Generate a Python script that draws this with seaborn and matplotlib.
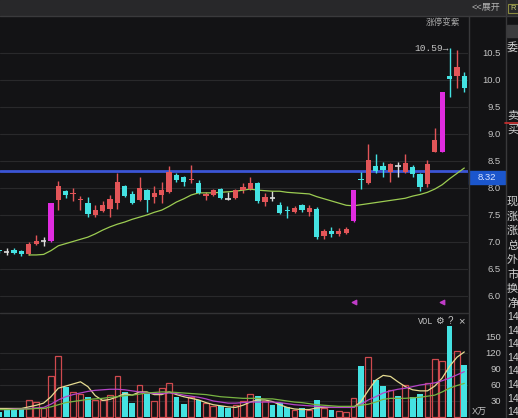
import numpy as np
import pandas as pd
import matplotlib
matplotlib.use("Agg")
import matplotlib.pyplot as plt
import matplotlib.transforms as mtransforms
from matplotlib.patches import Rectangle
from matplotlib.ticker import FormatStrFormatter
import seaborn as sns

# daily candles, oldest first (price in yuan)
opens = [6.84, 6.82, 6.85, 6.83, 6.77, 6.97, 7.02, 7.02, 7.78, 7.94,
         7.89, 7.78, 7.72, 7.50, 7.58, 7.62, 7.73, 8.03, 7.89, 7.78,
         7.96, 7.83, 7.87, 7.92, 8.24, 8.20, 8.14, 8.10, 7.85, 7.87,
         7.98, 7.80, 7.82, 7.97, 7.99, 8.09, 7.74, 7.81, 7.69, 7.60,
         7.56, 7.68, 7.55, 7.62, 7.11, 7.21, 7.15, 7.17, 7.38, 8.17,
         8.09, 8.41, 8.40, 8.30, 8.40, 8.30, 8.38, 8.26, 8.07, 8.67,
         8.66, 10.07, 10.08, 10.08]
highs = [6.85, 6.89, 6.88, 6.85, 7.00, 7.13, 7.10, 7.72, 8.13, 7.96,
         8.00, 7.85, 7.84, 7.69, 7.75, 7.87, 8.28, 8.05, 7.94, 8.21,
         7.98, 8.03, 8.12, 8.40, 8.28, 8.23, 8.43, 8.15, 7.93, 7.98,
         8.00, 7.92, 7.99, 8.09, 8.20, 8.12, 7.91, 7.94, 7.74, 7.66,
         7.66, 7.71, 7.69, 7.64, 7.24, 7.28, 7.26, 7.27, 7.96, 8.30,
         8.82, 8.63, 8.49, 8.46, 8.49, 8.63, 8.43, 8.28, 8.52, 9.12,
         9.78, 10.59, 10.55, 10.14]
lows = [6.80, 6.76, 6.77, 6.74, 6.75, 6.94, 6.93, 7.00, 7.60, 7.81,
        7.75, 7.60, 7.46, 7.46, 7.55, 7.47, 7.62, 7.83, 7.70, 7.76,
        7.56, 7.72, 7.72, 7.90, 8.12, 8.03, 8.09, 7.88, 7.78, 7.85,
        7.79, 7.77, 7.80, 7.91, 7.96, 7.72, 7.66, 7.75, 7.51, 7.44,
        7.54, 7.56, 7.48, 7.06, 7.06, 7.10, 7.12, 7.15, 7.37, 7.99,
        8.08, 8.27, 8.20, 8.12, 8.20, 8.28, 8.20, 7.95, 8.02, 8.66,
        8.66, 9.69, 9.86, 9.78]
closes = [6.83, 6.82, 6.80, 6.77, 6.96, 7.01, 7.02, 7.72, 8.03, 7.87,
          7.91, 7.80, 7.52, 7.59, 7.69, 7.79, 8.12, 7.85, 7.73, 8.00,
          7.77, 7.90, 7.96, 8.30, 8.15, 8.11, 8.16, 7.90, 7.88, 7.96,
          7.81, 7.80, 7.96, 8.01, 8.10, 7.75, 7.84, 7.81, 7.54, 7.58,
          7.63, 7.59, 7.63, 7.10, 7.21, 7.15, 7.21, 7.24, 7.96, 8.14,
          8.51, 8.32, 8.34, 8.44, 8.40, 8.46, 8.26, 8.02, 8.44, 8.89,
          9.78, 10.02, 10.24, 9.86]
# volume in 万 (10k) shares
volumes = [10, 14, 15, 15, 31, 28, 16, 77, 114, 57,
           46, 43, 37, 31, 32, 41, 77, 46, 26, 60,
           44, 30, 55, 64, 37, 24, 38, 31, 26, 21,
           21, 16, 23, 30, 43, 40, 30, 23, 26, 18,
           13, 16, 13, 32, 16, 14, 12, 10, 35, 96,
           113, 69, 58, 51, 40, 60, 38, 44, 63, 108,
           105, 170, 124, 97]

# price moving average, shown from day 4 on
price_ma_start = 4
price_ma = [6.76, 6.76, 6.77, 6.84, 6.93, 6.97, 7.01, 7.05, 7.09, 7.15,
            7.22, 7.28, 7.33, 7.37, 7.42, 7.46, 7.50, 7.55, 7.59, 7.66,
            7.74, 7.80, 7.87, 7.91, 7.91, 7.91, 7.92, 7.93, 7.94, 7.96,
            7.98, 7.96, 7.95, 7.94, 7.94, 7.92, 7.91, 7.90, 7.89, 7.84,
            7.80, 7.76, 7.72, 7.68, 7.67, 7.69, 7.71, 7.73, 7.75, 7.77,
            7.79, 7.81, 7.85, 7.88, 7.92, 7.98, 8.06, 8.17, 8.27, 8.37]

# volume moving averages
vol_ma5 = [16, 16, 16, 16, 19, 22, 26, 38, 54, 58,
           62, 66, 57, 40, 31, 33, 38, 44, 41, 47,
           47, 42, 42, 47, 42, 38, 35, 32, 27, 23,
           21, 19, 18, 22, 28, 32, 32, 29, 23, 18,
           15, 14, 14, 17, 18, 18, 18, 18, 18, 29,
           50, 69, 78, 76, 66, 57, 51, 49, 49, 58,
           73, 95, 112, 122]
vol_ma10 = [14, 14, 15, 15, 16, 17, 18, 24, 32, 38,
            42, 45, 48, 50, 51, 52, 52, 51, 49, 47,
            45, 44, 44, 45, 44, 41, 39, 37, 34, 30,
            28, 26, 26, 27, 28, 28, 28, 28, 27, 25,
            23, 22, 21, 20, 19, 18, 18, 18, 18, 24,
            32, 38, 45, 49, 52, 54, 57, 60, 62, 64,
            68, 73, 79, 85]
vol_ma20 = [14, 14, 14, 15, 15, 16, 16, 19, 23, 27,
            29, 31, 33, 34, 35, 37, 38, 40, 41, 43,
            45, 46, 47, 47, 46, 45, 44, 43, 42, 40,
            38, 37, 36, 35, 35, 35, 34, 34, 32, 30,
            28, 27, 25, 23, 22, 21, 20, 20, 20, 22,
            24, 28, 33, 35, 35, 35, 36, 37, 39, 41,
            47, 54, 59, 63]

price_ticks = [6.0, 6.5, 7.0, 7.5, 8.0, 8.5, 9.0, 9.5, 10.0, 10.5]
vol_ticks = [30, 60, 90, 120, 150]
line_price = 8.32
limit_days = [48, 60]   # days marked under the price panel
side_labels = ["现", "涨", "涨", "总", "外", "市", "换", "净"]

BG = "#131315"
RED = "#e25558"
CYAN = "#44e2e2"
MAGENTA = "#e02ce0"
CROSS = "#dcdcdc"
TXT = "#c4c4c4"

sns.set_theme(style="dark", rc={"axes.facecolor": BG, "figure.facecolor": BG,
                                "axes.edgecolor": BG})
plt.rcParams["font.family"] = ["Liberation Sans", "Noto Sans CJK SC", "DejaVu Sans"]

W, H = 518, 418
fig = plt.figure(figsize=(W / 100, H / 100), dpi=100)


def P(x, y):
    return x / W, 1 - y / H


ax = fig.add_axes([0, 105 / H, 468 / W, 297 / H])
axv = fig.add_axes([0, 0, 468 / W, 105 / H])

df = pd.DataFrame(dict(o=opens, h=highs, l=lows, c=closes, v=volumes))
df["i"] = np.arange(len(df))
prev = df["c"].shift(1).fillna(df["o"])
df["up"] = (df["c"] > df["o"]) | ((df["c"] == df["o"]) & (df["c"] >= prev))
df["limit"] = df["c"] >= prev * 1.095
df["doji"] = df["c"] == df["o"]
df["color"] = np.where(df["limit"], MAGENTA,
                       np.where(df["doji"], CROSS, np.where(df["up"], RED, CYAN)))

# price panel
for t in price_ticks:
    ax.axhline(t, color="#29292b", lw=0.8, zorder=0)
ax.axhline(line_price, color="#3b55d6", lw=2, zorder=1)
ax.vlines(df["i"], df["l"], df["h"], colors=df["color"], lw=1, zorder=2)
body = df[~df["doji"]]
ax.bar(body["i"], np.maximum((body["c"] - body["o"]).abs(), 0.015),
       bottom=np.minimum(body["o"], body["c"]), width=0.72,
       color=body["color"], linewidth=0, zorder=3)
dj = df[df["doji"]]
ax.hlines(dj["c"], dj["i"] - 0.38, dj["i"] + 0.38, colors=CROSS, lw=1.2, zorder=3)

ma_df = pd.DataFrame({"i": np.arange(price_ma_start, price_ma_start + len(price_ma)),
                      "ma": price_ma})
sns.lineplot(data=ma_df, x="i", y="ma", ax=ax, color="#9ccc52", lw=0.9, zorder=2)

ax.scatter(limit_days, [5.88] * len(limit_days), marker="<", s=10,
           color="#c03cc8", zorder=3)
hi = int(df["h"].idxmax())
ax.text(hi - 0.15, df["h"].max(), f"{df['h'].max():.2f}→", ha="right", va="center",
        fontsize=6.8, color=TXT, family=["Liberation Mono", "DejaVu Sans Mono"])

ax.set_xlim(0.095, 63.5)
ax.set_ylim(5.685, 11.185)
ax.set_xticks([])
ax.set_xlabel("")
ax.set_ylabel("")
ax.yaxis.tick_right()
ax.set_yticks(price_ticks)
ax.yaxis.set_major_formatter(FormatStrFormatter("%.1f"))
ax.tick_params(axis="y", length=0, pad=23.8, labelsize=6.8, labelcolor=TXT)
plt.setp(ax.get_yticklabels(), ha="right")
for s in ax.spines.values():
    s.set_visible(False)

# last price tag
tr = mtransforms.blended_transform_factory(ax.transAxes, ax.transData)
ax.add_patch(Rectangle((1 + 1 / 468, line_price - 13 / 54), 36 / 468, 13 / 54,
                       transform=tr, color="#1b56cc", clip_on=False, zorder=5))
ax.text(1 + 19 / 468, line_price - 6.5 / 54, f"{line_price:.2f}", transform=tr,
        ha="center", va="center", fontsize=6.8, color="#d8e4ff", clip_on=False,
        zorder=6)

# volume panel
for t in vol_ticks[:-1]:
    axv.axhline(t, color="#29292b", lw=0.8, zorder=0)
up = df[df["up"]]
dn = df[~df["up"]]
axv.bar(up["i"], up["v"], width=0.78, facecolor="none", edgecolor="#cf4a4e",
        lw=0.9, zorder=2)
axv.bar(dn["i"], dn["v"], width=0.78, color=CYAN, linewidth=0, zorder=2)
vm = pd.DataFrame({"i": df["i"], "ma5": vol_ma5, "ma10": vol_ma10, "ma20": vol_ma20})
sns.lineplot(data=vm, x="i", y="ma5", ax=axv, color="#e6dc92", lw=0.9, zorder=3)
sns.lineplot(data=vm, x="i", y="ma10", ax=axv, color="#b544c8", lw=0.9, zorder=3)
sns.lineplot(data=vm, x="i", y="ma20", ax=axv, color="#78b442", lw=0.9, zorder=3)
axv.set_xlim(0.095, 63.5)
axv.set_ylim(-1.875, 195)
axv.set_xticks([])
axv.set_xlabel("")
axv.set_ylabel("")
axv.yaxis.tick_right()
axv.set_yticks(vol_ticks)
axv.tick_params(axis="y", length=0, pad=23.8, labelsize=6.8, labelcolor=TXT)
plt.setp(axv.get_yticklabels(), ha="right")
for s in axv.spines.values():
    s.set_visible(False)

# frame pieces of the trading screen
fig.patches.append(Rectangle(P(0, 15), 1, 15 / H, transform=fig.transFigure,
                             color="#28282a", zorder=0))
fig.add_artist(plt.Line2D([0, 1], [1 - 16 / H] * 2, color="#3a3a3c", lw=1))
fig.add_artist(plt.Line2D([0, 468 / W], [1 - 313 / H] * 2, color="#333335", lw=1))
fig.add_artist(plt.Line2D([468.5 / W] * 2, [0, 1 - 16 / H], color="#39393b", lw=1))
fig.add_artist(plt.Line2D([505.5 / W] * 2, [0, 1], color="#39393b", lw=1))
fig.add_artist(plt.Line2D([505 / W, 1], [1 - 123 / H] * 2, color="#d03030", lw=1.2))
fig.patches.append(Rectangle(P(507, 37), 12 / W, 12 / H, transform=fig.transFigure,
                             color="#3c3c3e", zorder=1))
fig.patches.append(Rectangle(P(508, 13), 11 / W, 9 / H, transform=fig.transFigure,
                             facecolor="none", edgecolor="#8c8c40", lw=0.8, zorder=1))
fig.text(*P(510, 8.5), "R", ha="left", va="center", fontsize=5.5, color="#c8c870")

fig.text(*P(486, 7.5), "<<展开", ha="center", va="center", fontsize=6.5, color="#b4b4b4")
fig.text(*P(443, 22), "涨停变紫", ha="center", va="center", fontsize=6.2, color="#a8a8a8")
fig.text(*P(418, 321), "VOL", ha="left", va="center", fontsize=6.2, color=TXT,
         family=["Liberation Mono", "DejaVu Sans Mono"])
fig.text(*P(439, 321), "⚙", ha="center", va="center", fontsize=7, color=TXT,
         family=["DejaVu Sans"])
fig.text(*P(450, 321), "?", ha="center", va="center", fontsize=7, color=TXT)
fig.text(*P(461, 321), "×", ha="center", va="center", fontsize=8, color=TXT)
fig.text(*P(472, 412), "X万", ha="left", va="center", fontsize=6.5, color=TXT)

fig.text(*P(507, 47), "委", ha="left", va="center", fontsize=8, color="#d0d0d0")
fig.text(*P(507, 115), "卖", ha="left", va="center", fontsize=8, color="#d0d0d0")
fig.text(*P(507, 130), "买", ha="left", va="center", fontsize=8, color="#d0d0d0")
for k, s in enumerate(side_labels):
    fig.text(*P(507, 202 + 14.5 * k), s, ha="left", va="center", fontsize=8,
             color="#d0d0d0")
for k in range(8):
    fig.text(*P(507, 317 + 13.6 * k), "14", ha="left", va="center", fontsize=7.5,
             color="#d0d0d0")

fig.savefig("out.png", dpi=100, facecolor=BG)
